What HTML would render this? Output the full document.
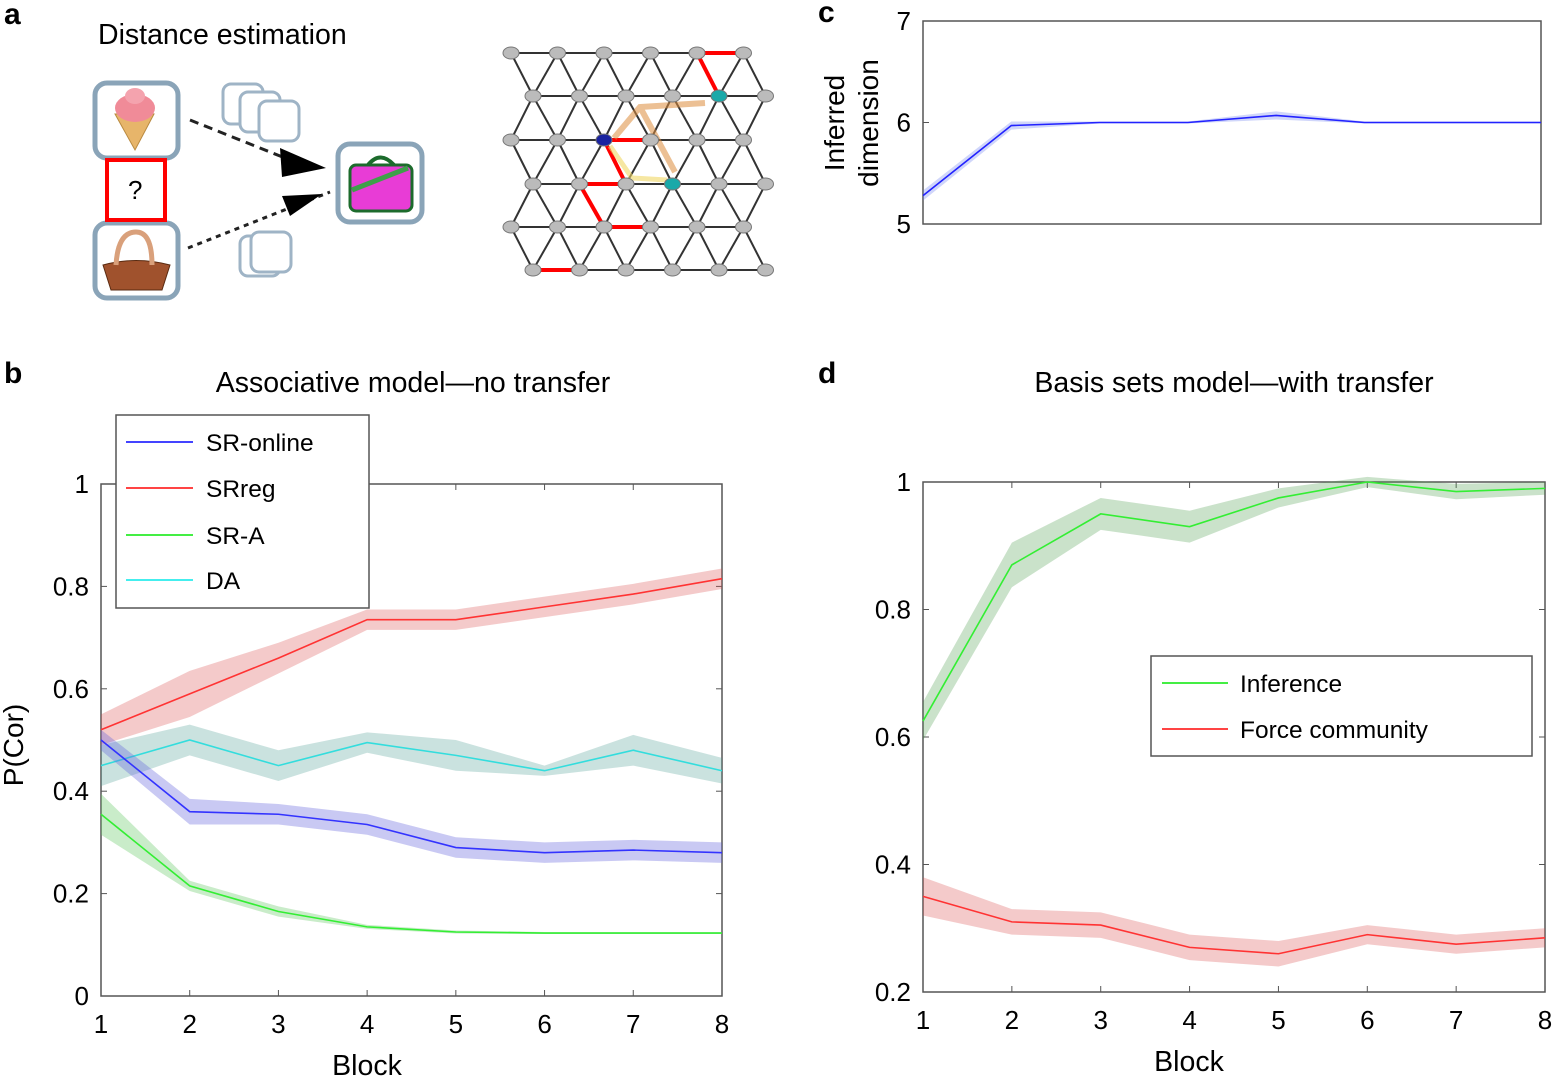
<!DOCTYPE html>
<html><head><meta charset="utf-8"><style>
html,body{margin:0;padding:0;background:#fff}
svg{display:block;font-family:"Liberation Sans",Arial,sans-serif}
</style></head><body>
<svg id="s" width="1552" height="1076" viewBox="0 0 1552 1076" xmlns="http://www.w3.org/2000/svg">
<g font-weight="bold" font-size="30" fill="#000">
<text x="4" y="24">a</text><text x="4" y="383">b</text><text x="818" y="22">c</text><text x="818" y="383">d</text>
</g>
<text x="98" y="44" font-size="28.5">Distance estimation</text>
<g fill="#fff" stroke="#8aa4b8" stroke-width="5">
<rect x="95" y="83" width="83" height="75" rx="12"/>
<rect x="95" y="223" width="83" height="75" rx="12"/>
<rect x="338" y="144" width="84" height="78" rx="12"/>
</g>
<rect x="107" y="160" width="58" height="60" fill="#fff" stroke="#f00" stroke-width="4"/>
<text x="128" y="199" font-size="26">?</text>
<g fill="none" stroke="#9fb4c6" stroke-width="3">
<rect x="223" y="84" width="40" height="40" rx="8" fill="#fff"/>
<rect x="240" y="92" width="40" height="40" rx="8" fill="#fff"/>
<rect x="259" y="101" width="40" height="40" rx="8" fill="#fff"/>
<rect x="240" y="236" width="40" height="40" rx="8" fill="#fff"/>
<rect x="251" y="232" width="40" height="40" rx="8" fill="#fff"/>
</g>
<path d="M115 114 L135 150 L154 114Z" fill="#e7b56a" stroke="#b98a40"/>
<ellipse cx="135" cy="108" rx="20" ry="14" fill="#f08b98"/>
<ellipse cx="135" cy="96" rx="10" ry="8" fill="#f4a3ae"/>
<path d="M103 265 Q136 256 170 265 L162 290 L111 290Z" fill="#a0522d" stroke="#5a2a10"/>
<path d="M116 265 Q118 232 136 232 Q152 232 152 265" fill="none" stroke="#d9a07b" stroke-width="5"/>
<rect x="350" y="165" width="62" height="46" rx="6" fill="#e83cd6" stroke="#1c6b2c" stroke-width="3"/>
<path d="M352 190 L408 168" stroke="#3ea04a" stroke-width="5"/>
<path d="M368 165 Q380 150 394 165" fill="none" stroke="#1c6b2c" stroke-width="4"/>
<path d="M190 120 L290 160" stroke="#222" stroke-width="3" stroke-dasharray="9,6"/>
<path d="M188 248 L330 192" stroke="#222" stroke-width="3" stroke-dasharray="5,5"/>
<path d="M280 148 L326 168 L282 177Z" fill="#000"/>
<path d="M282 196 L322 194 L290 216Z" fill="#000"/>
<g id="lat"></g>
<text x="413" y="392" font-size="28.5" text-anchor="middle">Associative model—no transfer</text>
<text x="1234" y="392" font-size="28.5" text-anchor="middle">Basis sets model—with transfer</text>
<g id="plots"></g>
</svg>
<script>
const NS="http://www.w3.org/2000/svg";
function el(p,t,a,txt){const e=document.createElementNS(NS,t);for(const k in a)e.setAttribute(k,a[k]);if(txt!==undefined)e.textContent=txt;p.appendChild(e);return e;}
const lat=document.getElementById('lat');
const ry=[53,96,140,184,227,270];
function nx(r,i){return (r%2? 533:511)+46.5*i;}
for(let r=0;r<6;r++){for(let i=0;i<5;i++)el(lat,'line',{x1:nx(r,i),y1:ry[r],x2:nx(r,i+1),y2:ry[r],stroke:'#333','stroke-width':2});
 if(r<5){for(let i=0;i<6;i++){ if(r%2==0){ if(i>0)el(lat,'line',{x1:nx(r,i),y1:ry[r],x2:nx(r+1,i-1),y2:ry[r+1],stroke:'#333','stroke-width':2}); el(lat,'line',{x1:nx(r,i),y1:ry[r],x2:nx(r+1,i),y2:ry[r+1],stroke:'#333','stroke-width':2});}
 else { el(lat,'line',{x1:nx(r,i),y1:ry[r],x2:nx(r+1,i),y2:ry[r+1],stroke:'#333','stroke-width':2}); if(i<5)el(lat,'line',{x1:nx(r,i),y1:ry[r],x2:nx(r+1,i+1),y2:ry[r+1],stroke:'#333','stroke-width':2});}}}}
const red=[[0,4,0,5],[0,4,1,4],[2,2,2,3],[2,2,3,2],[3,1,3,2],[3,1,4,2],[4,2,4,3],[5,0,5,1]];
red.forEach(a=>el(lat,'line',{x1:nx(a[0],a[1]),y1:ry[a[0]],x2:nx(a[2],a[3]),y2:ry[a[2]],stroke:'#f00','stroke-width':4}));
el(lat,'path',{d:'M614 138 L640 107 L705 103 M640 107 L675 172',fill:'none',stroke:'rgba(220,140,60,0.55)','stroke-width':6});
el(lat,'path',{d:'M610 146 L632 178 L667 180',fill:'none',stroke:'rgba(240,215,100,0.6)','stroke-width':5});
for(let r=0;r<6;r++)for(let i=0;i<6;i++){let f='#bbb';if(r==2&&i==2)f='#1a23a0';if((r==1&&i==4)||(r==3&&i==3))f='#1aa9a9';
 el(lat,'ellipse',{cx:nx(r,i),cy:ry[r],rx:8,ry:6,fill:f,stroke:'#777'});}
const P=document.getElementById('plots');
function axes(x0,x1,y0,y1,xt,yt){
 el(P,'rect',{x:x0,y:y0,width:x1-x0,height:y1-y0,fill:'none',stroke:'#555','stroke-width':1.5});
 xt&&xt.forEach(t=>{el(P,'line',{x1:t[0],y1:y1,x2:t[0],y2:y1-6,stroke:'#555'});el(P,'line',{x1:t[0],y1:y0,x2:t[0],y2:y0+6,stroke:'#555'});el(P,'text',{x:t[0],y:y1+37,'font-size':26,'text-anchor':'middle'},t[1]);});
 yt.forEach(t=>{el(P,'line',{x1:x0,y1:t[0],x2:x0+6,y2:t[0],stroke:'#555'});el(P,'line',{x1:x1,y1:t[0],x2:x1-6,y2:t[0],stroke:'#555'});el(P,'text',{x:x0-12,y:t[0]+9,'font-size':26,'text-anchor':'end'},t[1]);});
}
function series(X,Y,vals,err,col,fill){
 const up=vals.map((v,i)=>[X(i+1),Y(v+err[i])]),dn=vals.map((v,i)=>[X(i+1),Y(v-err[i])]).reverse();
 el(P,'path',{d:'M'+up.concat(dn).map(p=>p.join(' ')).join(' L')+'Z',fill:fill});
 el(P,'polyline',{points:vals.map((v,i)=>X(i+1)+','+Y(v)).join(' '),fill:'none',stroke:col,'stroke-width':1.6});
}
{const X=b=>101+(b-1)*88.71,Y=v=>996-512*v;
 axes(101,722,484,996,[1,2,3,4,5,6,7,8].map(b=>[X(b),b]),[[996,'0'],[Y(.2),'0.2'],[Y(.4),'0.4'],[Y(.6),'0.6'],[Y(.8),'0.8'],[484,'1']]);
 el(P,'text',{x:367,y:1075,'font-size':28.5,'text-anchor':'middle'},'Block');
 el(P,'text',{x:0,y:0,'font-size':28,'text-anchor':'middle',transform:'translate(23,745) rotate(-90)'},'P(Cor)');
 series(X,Y,[.52,.59,.66,.735,.735,.76,.785,.815],[.03,.045,.03,.02,.02,.02,.02,.02],'#f33','rgba(220,80,80,0.3)');
 series(X,Y,[.45,.50,.45,.495,.47,.44,.48,.44],[.04,.03,.03,.02,.03,.01,.03,.025],'#3dd','rgba(80,160,150,0.3)');
 series(X,Y,[.50,.36,.355,.335,.29,.28,.285,.28],[.02,.025,.02,.02,.02,.02,.02,.02],'#33f','rgba(100,100,220,0.35)');
 series(X,Y,[.355,.215,.165,.135,.125,.123,.123,.123],[.04,.01,.01,.004,.003,.002,.002,.002],'#3e3','rgba(100,200,100,0.35)');
 el(P,'rect',{x:116,y:415,width:253,height:193,fill:'#fff',stroke:'#555','stroke-width':1.5});
 [['SR-online','#44f',442],['SRreg','#f44',488],['SR-A','#4e4',535],['DA','#4ee',580]].forEach(l=>{el(P,'line',{x1:126,y1:l[2],x2:193,y2:l[2],stroke:l[1],'stroke-width':2});el(P,'text',{x:206,y:l[2]+9,'font-size':24.5},l[0]);});
}
{const X=b=>923+(b-1)*88.86,Y=v=>992-637.5*(v-.2);
 axes(923,1545,482,992,[1,2,3,4,5,6,7,8].map(b=>[X(b),b]),[[Y(.2),'0.2'],[Y(.4),'0.4'],[Y(.6),'0.6'],[Y(.8),'0.8'],[482,'1']]);
 el(P,'text',{x:1189,y:1071,'font-size':28.5,'text-anchor':'middle'},'Block');
 series(X,Y,[.625,.87,.95,.93,.975,1.0,.985,.99],[.03,.035,.025,.025,.015,.008,.012,.01],'#3e3','rgba(80,160,80,0.3)');
 series(X,Y,[.35,.31,.305,.27,.26,.29,.275,.285],[.03,.02,.02,.02,.02,.015,.015,.015],'#f33','rgba(220,80,80,0.3)');
 el(P,'rect',{x:1151,y:656,width:381,height:100,fill:'#fff',stroke:'#555','stroke-width':1.5});
 el(P,'line',{x1:1162,y1:683,x2:1228,y2:683,stroke:'#4e4','stroke-width':2});el(P,'text',{x:1240,y:692,'font-size':24.5},'Inference');
 el(P,'line',{x1:1162,y1:729,x2:1228,y2:729,stroke:'#f44','stroke-width':2});el(P,'text',{x:1240,y:738,'font-size':24.5},'Force community');
}
{const X=b=>923+(b-1)*88.29,Y=v=>224-101.5*(v-5);
 axes(923,1541,21,224,null,[[224,'5'],[Y(6),'6'],[21,'7']]);
 el(P,'text',{x:0,y:0,'font-size':28,'text-anchor':'middle',transform:'translate(844,123) rotate(-90)'},'Inferred');
 el(P,'text',{x:0,y:0,'font-size':28,'text-anchor':'middle',transform:'translate(878,123) rotate(-90)'},'dimension');
 series(X,Y,[5.28,5.97,6.0,6.0,6.07,6.0,6.0,6.0],[.05,.04,.01,.01,.04,.01,.01,.01],'#22f','rgba(100,120,240,0.3)');
}
</script>
</body></html>
